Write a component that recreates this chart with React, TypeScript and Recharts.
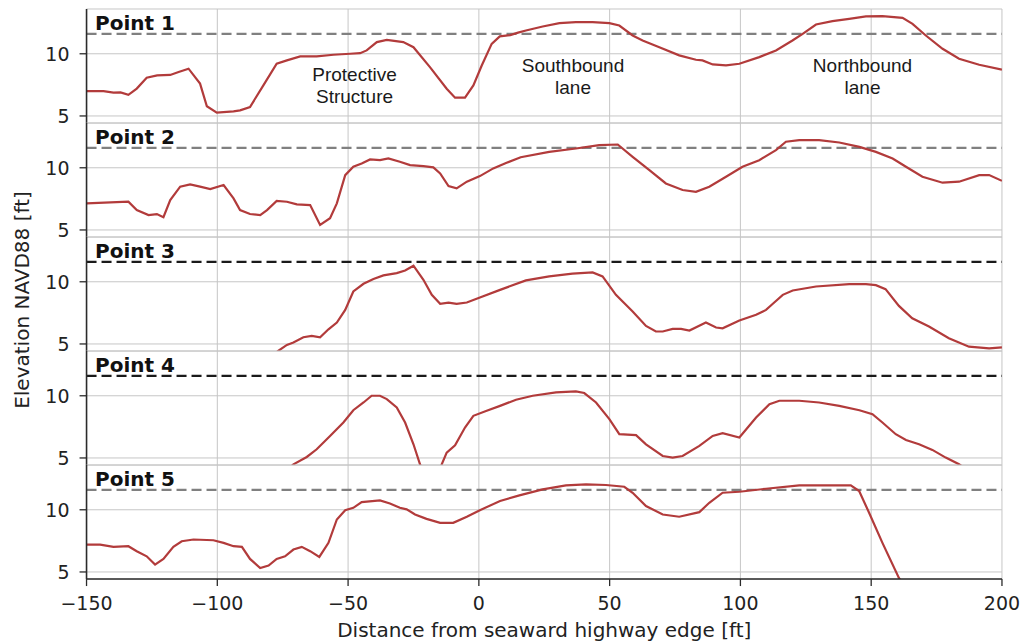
import React from 'react';
import { LineChart, Line, XAxis, YAxis, CartesianGrid, ReferenceLine } from 'recharts';

const X_TICKS = [-150, -100, -50, 0, 50, 100, 150, 200];
const Y_TICKS = [5, 10];
const Y_DOMAIN: [number, number] = [4.43, 13.6];
const X_DOMAIN: [number, number] = [-150, 200];
const THRESHOLD = 11.6;

const PANEL_NAMES = ['Point 1', 'Point 2', 'Point 3', 'Point 4', 'Point 5'];
const DASH_COLORS = ['#808080', '#808080', '#1a1a1a', '#1a1a1a', '#808080'];

const p1X = [-150, -143.5, -139.7, -137, -134, -130.8, -127, -123, -118, -114.8, -111, -106.6, -104, -100.2, -93.8, -91.3, -87.5, -82.4, -77.3, -73.4, -68.3, -62, -55.6, -49.2, -45.4, -42.9, -39, -35.2, -28.9, -25, -18.7, -12.3, -9.1, -5.3, -2.1, 1.1, 4.9, 8, 12, 15, 18, 24.4, 30.8, 37.1, 43.5, 49.9, 53.7, 58.8, 62.6, 69, 76.6, 83, 85.5, 89.4, 94.5, 99.6, 107.2, 113.6, 119.9, 123.8, 128.9, 135.2, 141.6, 148, 154.3, 162, 165.8, 170.9, 177.3, 183.6, 191.3, 200];
const p1Y = [7.0, 7.0, 6.87, 6.9, 6.7, 7.2, 8.07, 8.26, 8.3, 8.53, 8.8, 7.6, 5.78, 5.27, 5.37, 5.45, 5.72, 7.46, 9.2, 9.47, 9.79, 9.79, 9.92, 10.0, 10.05, 10.27, 10.94, 11.12, 10.94, 10.53, 8.93, 7.19, 6.47, 6.47, 7.46, 9.06, 10.8, 11.4, 11.5, 11.7, 11.87, 12.19, 12.46, 12.54, 12.54, 12.46, 12.27, 11.47, 11.07, 10.53, 9.87, 9.52, 9.47, 9.14, 9.06, 9.2, 9.73, 10.27, 11.07, 11.6, 12.35, 12.62, 12.81, 13.0, 13.02, 12.89, 12.41, 11.47, 10.4, 9.6, 9.12, 8.72];

const p2X = [-150, -134, -130.8, -126.3, -123.1, -120.6, -118, -114.2, -110.4, -106.6, -102.7, -97.6, -93.8, -91.3, -87.5, -83.6, -81, -77.3, -73.4, -69.6, -64.5, -60.7, -56.9, -54.3, -51.1, -48, -44.8, -41.6, -37.8, -34.6, -30.2, -26.3, -21.2, -17.4, -14.8, -11.6, -8.5, -4.6, 0.4, 5.5, 10.6, 16, 26.9, 37.1, 46, 53.1, 58.8, 65.2, 71.5, 77.9, 83, 88.1, 94.5, 100.8, 107.2, 113.6, 117.4, 122.5, 130.1, 137.8, 145.5, 151.8, 158.2, 163.3, 169.6, 177.3, 183.6, 191.3, 195.1, 200];
const p2Y = [7.14, 7.27, 6.6, 6.2, 6.28, 6.02, 7.41, 8.48, 8.66, 8.48, 8.29, 8.61, 7.54, 6.6, 6.28, 6.2, 6.6, 7.33, 7.27, 7.06, 7.0, 5.4, 5.94, 7.14, 9.41, 10.08, 10.35, 10.67, 10.61, 10.75, 10.48, 10.21, 10.13, 10.03, 9.55, 8.53, 8.34, 8.88, 9.33, 9.95, 10.4, 10.85, 11.28, 11.55, 11.82, 11.87, 10.88, 9.81, 8.74, 8.21, 8.07, 8.48, 9.28, 10.08, 10.61, 11.42, 12.09, 12.22, 12.22, 12.03, 11.68, 11.28, 10.75, 10.08, 9.28, 8.8, 8.88, 9.41, 9.41, 8.95];

const p3X = [-80, -76.6, -73.4, -70.9, -67.1, -63.9, -60.7, -57.5, -54.3, -51.1, -48, -44.1, -40.3, -36.5, -31.4, -28.2, -25, -21.2, -18, -14.8, -11.6, -8.5, -4.6, 0.4, 8.1, 18, 26.9, 35.8, 43.5, 47.3, 52.4, 58.8, 63.9, 67.7, 70.3, 74.1, 77.3, 80.5, 86.8, 90.7, 93.2, 99.6, 106, 109.8, 112.4, 116.2, 120, 128.9, 141.6, 148, 151.8, 155.5, 160.6, 165.7, 172.1, 179.7, 187.4, 195.1, 200];
const p3Y = [3.9, 4.46, 4.92, 5.11, 5.54, 5.65, 5.54, 6.18, 6.72, 7.74, 9.22, 9.84, 10.22, 10.51, 10.7, 10.91, 11.29, 10.16, 8.95, 8.23, 8.33, 8.23, 8.33, 8.74, 9.35, 10.11, 10.43, 10.65, 10.75, 10.43, 8.95, 7.61, 6.45, 6.0, 6.0, 6.21, 6.21, 6.08, 6.72, 6.32, 6.26, 6.88, 7.34, 7.74, 8.23, 8.95, 9.3, 9.62, 9.81, 9.81, 9.73, 9.41, 8.06, 7.07, 6.4, 5.46, 4.78, 4.65, 4.73];

const p4X = [-74, -70.9, -65.8, -62, -56.9, -51.8, -48, -44.1, -41, -37.8, -35.2, -31.4, -28.2, -25, -22.5, -19, -16, -14.2, -12.3, -9.1, -5.3, -2.1, 3, 8.1, 14.2, 20.6, 29.5, 37.1, 40.3, 44.8, 49.9, 53.7, 60.1, 63.9, 70.3, 74.1, 77.9, 84.3, 89.4, 93.2, 99.6, 106, 111.1, 114.9, 122.5, 130.1, 137.8, 145.5, 150.5, 154.3, 159.4, 163.3, 168.3, 173.4, 178.5, 183.6, 187];
const p4Y = [3.9, 4.49, 5.08, 5.7, 6.77, 7.85, 8.84, 9.46, 10.0, 10.0, 9.73, 9.06, 7.85, 6.1, 4.49, 3.0, 3.0, 4.49, 5.43, 6.02, 7.45, 8.39, 8.79, 9.19, 9.68, 10.0, 10.27, 10.35, 10.22, 9.46, 8.12, 6.91, 6.83, 6.1, 5.16, 5.03, 5.16, 5.97, 6.77, 6.99, 6.64, 8.25, 9.33, 9.6, 9.6, 9.46, 9.19, 8.84, 8.52, 7.85, 6.91, 6.45, 6.1, 5.65, 5.03, 4.49, 4.0];

const p5X = [-150, -144.8, -139.7, -134, -130.8, -127, -123.8, -120.6, -116.8, -113.6, -109.1, -101.5, -97.6, -93.8, -90.6, -87.5, -83.6, -80.4, -77.3, -74.1, -70.9, -67.7, -64.5, -61, -57.5, -54.3, -51.1, -48, -44.8, -37.8, -34, -30.2, -27.6, -24.4, -20, -14.8, -9.8, -4.6, 0.4, 8.1, 15.5, 24.4, 33.3, 41, 48.6, 55.6, 58.8, 63.9, 70.3, 76.6, 84.3, 88.1, 93.2, 99.6, 109.8, 122.5, 135.2, 142.2, 145.4, 149.2, 154.3, 160.6, 164];
const p5Y = [7.2, 7.2, 7.02, 7.07, 6.67, 6.26, 5.59, 6.05, 7.02, 7.47, 7.61, 7.55, 7.34, 7.07, 7.02, 6.05, 5.32, 5.51, 6.05, 6.26, 6.8, 7.02, 6.67, 6.21, 7.34, 9.22, 9.97, 10.16, 10.62, 10.75, 10.51, 10.16, 10.03, 9.62, 9.27, 8.95, 8.95, 9.44, 9.97, 10.7, 11.16, 11.64, 11.96, 12.04, 11.99, 11.85, 11.37, 10.3, 9.62, 9.44, 9.81, 10.56, 11.37, 11.45, 11.69, 11.96, 11.96, 11.96, 11.51, 9.76, 7.34, 4.52, 3.5];

const PANEL_X = [p1X, p2X, p3X, p4X, p5X];
const PANEL_Y = [p1Y, p2Y, p3Y, p4Y, p5Y];

const ANNOTATIONS = [
  { lines: ['Protective', 'Structure'], cx: 354.5, y: 81 },
  { lines: ['Southbound', 'lane'], cx: 573, y: 72 },
  { lines: ['Northbound', 'lane'], cx: 862.5, y: 72 },
];

const X_LABEL = 'Distance from seaward highway edge [ft]';
const Y_LABEL = 'Elevation NAVD88 [ft]';

const W = 1025;
const H = 643;
const PLOT_LEFT = 86.5;
const PLOT_RIGHT = 1002;
const FIRST_TOP = 9;
const PANEL_H = 114.06;
const PAD = 2;
const PAD_BOTTOM = 14;
const BOTTOM_AXIS_H = 60;

const LINE_COLOR = '#b23b3b';
const FRAME = '#2b2b2b';
const GRID = '#c6c6c6';
const TEXT = '#222';
const TICK_FONT = 'DejaVu Sans';

const fmt = (v: number) => String(v).replace('-', '\u2212');
const EmptyTick = () => <g />;

function Panel({ i }: { i: number }) {
  const last = i === 4;
  const data = PANEL_X[i].map((x, k) => ({ x, y: PANEL_Y[i][k] }));
  const top = FIRST_TOP + i * PANEL_H - PAD;
  const height = PAD + PANEL_H + (last ? BOTTOM_AXIS_H : PAD_BOTTOM);
  return (
    <div style={{ position: 'absolute', left: 0, top, width: W, height }}>
      <LineChart
        width={W}
        height={height}
        data={data}
        margin={{ top: PAD, right: W - PLOT_RIGHT, bottom: last ? 0 : PAD_BOTTOM, left: 0 }}
      >
        <CartesianGrid stroke={GRID} strokeWidth={1} />
        <XAxis
          dataKey="x"
          type="number"
          domain={X_DOMAIN}
          ticks={X_TICKS}
          interval={0}
          allowDataOverflow
          height={last ? BOTTOM_AXIS_H : 0}
          tick={last ? { fill: TEXT, fontSize: 19, fontFamily: TICK_FONT } : <EmptyTick />}
          tickLine={last ? { stroke: FRAME, strokeWidth: 1.3 } : false}
          tickSize={7}
          tickMargin={10}
          tickFormatter={fmt}
          axisLine={{ stroke: FRAME, strokeWidth: 1.6 }}
        />
        <XAxis
          xAxisId="top"
          orientation="top"
          type="number"
          domain={X_DOMAIN}
          height={0}
          tick={false}
          tickLine={false}
          axisLine={{ stroke: FRAME, strokeWidth: 1.6 }}
        />
        <YAxis
          type="number"
          domain={Y_DOMAIN}
          ticks={Y_TICKS}
          interval={0}
          allowDataOverflow
          width={PLOT_LEFT}
          tick={{ fill: TEXT, fontSize: 19, fontFamily: TICK_FONT }}
          tickLine={{ stroke: FRAME, strokeWidth: 1.3 }}
          tickSize={7}
          tickMargin={10}
          axisLine={{ stroke: FRAME, strokeWidth: 1.6 }}
        />
        <YAxis
          yAxisId="right"
          orientation="right"
          type="number"
          domain={[0, 1]}
          width={0}
          tick={false}
          tickLine={false}
          axisLine={{ stroke: FRAME, strokeWidth: 1.6 }}
        />
        <ReferenceLine
          y={THRESHOLD}
          stroke={DASH_COLORS[i]}
          strokeWidth={2.3}
          strokeDasharray="10 5"
        />
        <Line
          type="linear"
          dataKey="y"
          stroke={LINE_COLOR}
          strokeWidth={2.2}
          dot={false}
          isAnimationActive={false}
        />
      </LineChart>
    </div>
  );
}

export default function App() {
  return (
    <div style={{ position: 'absolute', left: 0, top: 0, width: W, height: H, background: '#fff' }}>
      {PANEL_NAMES.map((_, i) => (
        <Panel key={i} i={i} />
      ))}
      <svg
        width={W}
        height={H}
        style={{ position: 'absolute', left: 0, top: 0, pointerEvents: 'none' }}
      >
        {PANEL_NAMES.map((name, i) => (
          <text
            key={name}
            x={95}
            y={FIRST_TOP + i * PANEL_H + 21}
            fontFamily="DejaVu Sans"
            fontWeight="bold"
            fontSize={20}
            fill="#111"
          >
            {name}
          </text>
        ))}
        {ANNOTATIONS.map((a, k) => (
          <text
            key={k}
            textAnchor="middle"
            fontFamily="Liberation Sans, Arial, sans-serif"
            fontSize={19}
            fill="#1a1a1a"
          >
            {a.lines.map((ln, j) => (
              <tspan key={j} x={a.cx} y={a.y + j * 22}>
                {ln}
              </tspan>
            ))}
          </text>
        ))}
        <text
          x={(PLOT_LEFT + PLOT_RIGHT) / 2}
          y={637}
          textAnchor="middle"
          fontFamily={TICK_FONT}
          fontSize={20}
          fill={TEXT}
        >
          {X_LABEL}
        </text>
        <text
          transform={`translate(29, 300) rotate(-90)`}
          textAnchor="middle"
          fontFamily={TICK_FONT}
          fontSize={20}
          fill={TEXT}
        >
          {Y_LABEL}
        </text>
      </svg>
    </div>
  );
}
